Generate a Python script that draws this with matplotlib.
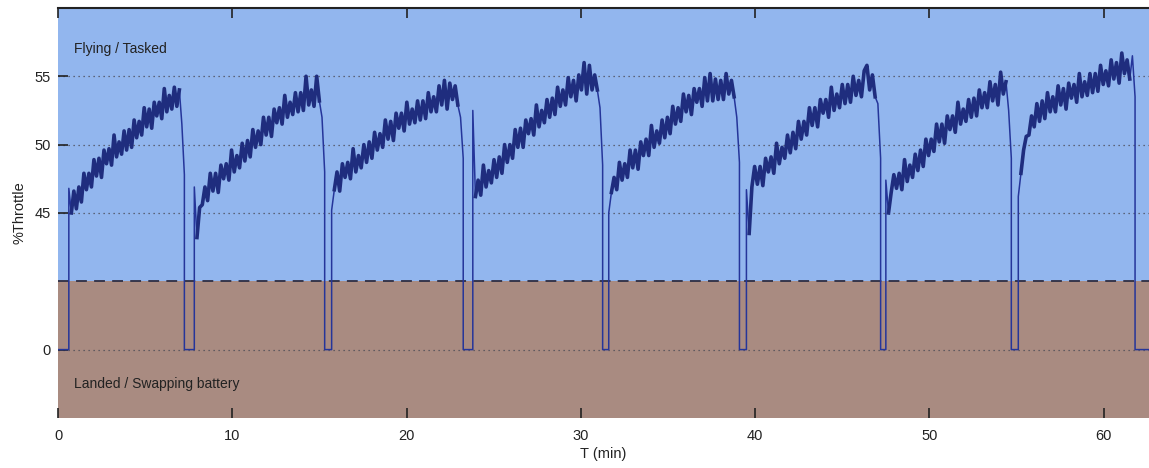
import numpy as np
import matplotlib
matplotlib.use("Agg")
import matplotlib.pyplot as plt

plt.rcParams["font.family"] = ["Liberation Sans", "DejaVu Sans"]

# ---------- данные: циклы полёта (время включения/выключения, % газа) ----------
T_END = 62.6
cycle_on = [0.62, 7.82, 15.70, 23.80, 31.60, 39.50, 47.50, 55.10]
cycle_off = [7.25, 15.30, 23.25, 31.25, 39.10, 47.20, 54.70, 61.80]

throttle_c1 = [46.8, 45.0,
               46.6, 45.3, 46.9, 45.8, 47.9, 46.7, 47.9, 46.9, 48.9, 47.7,
               49.0, 47.6, 49.6, 48.6, 49.7, 48.5, 50.7, 49.1, 50.2, 49.3,
               51.0, 49.6, 51.1, 49.8, 51.8, 50.5, 51.7, 50.7, 52.7, 51.3,
               52.6, 51.2, 53.1, 52.1, 53.1, 51.9, 54.1, 52.4, 53.6, 52.6,
               54.2, 52.8, 54.0,
               51.5, 47.8]
throttle_c2 = [46.9, 43.2, 45.4,
               45.6, 46.9, 45.9, 47.9, 46.6, 47.9, 46.5, 48.5, 47.5, 48.6,
               47.4, 49.6, 48.0, 49.2, 48.3, 50.1, 48.8, 50.3, 49.1, 51.1,
               49.8, 51.0, 50.0, 52.0, 50.7, 52.0, 50.6, 52.6, 51.6, 52.7,
               51.5, 53.6, 52.0, 53.1, 52.2, 53.8, 52.4, 53.8, 52.5, 55.0,
               52.9, 54.0, 52.8, 55.0, 53.2,
               52.0, 48.0]
throttle_c3 = [45.2, 46.7,
               48.0, 46.6, 48.6, 47.6, 48.7, 47.5, 49.7, 48.0, 49.2, 48.3,
               50.0, 48.7, 50.2, 49.0, 50.9, 49.6, 50.8, 49.8, 51.8, 50.4,
               51.7, 50.3, 52.3, 51.2, 52.3, 51.0, 53.1, 51.5, 52.6, 51.6,
               53.2, 51.8, 53.2, 51.9, 53.8, 52.4, 53.5, 52.4, 54.3, 52.9,
               54.7, 52.6, 54.5, 53.3, 54.3, 52.9,
               52.0, 49.0]
throttle_c4 = [52.5, 46.2, 47.4,
               46.3, 48.5, 46.9, 48.1, 47.2, 48.9, 47.6, 49.1, 47.9, 50.0,
               48.7, 50.0, 49.0, 51.1, 49.8, 51.2, 49.8, 51.8, 50.8, 51.9,
               50.7, 52.9, 51.3, 52.5, 51.6, 53.3, 52.0, 53.4, 52.2, 54.2,
               52.8, 54.0, 52.9, 54.9, 53.5, 54.7, 53.2, 55.1, 54.0, 56.0,
               53.7, 55.8, 54.0, 55.1, 54.0,
               52.7, 48.5]
throttle_c5 = [45.0, 46.5, 47.6,
               46.7, 48.7, 47.4, 48.6, 47.6, 49.6, 48.3, 49.6, 48.2, 50.2,
               49.2, 50.4, 49.2, 51.4, 49.8, 51.0, 50.1, 51.8, 50.5, 52.0,
               50.8, 52.8, 51.5, 52.7, 51.7, 53.7, 52.4, 53.6, 52.2, 54.1,
               53.1, 54.1, 52.8, 54.9, 53.2, 55.2, 53.2, 54.8, 53.3, 54.7,
               53.3, 55.2, 53.7, 54.7, 53.5,
               52.0, 48.7]
throttle_c6 = [46.7, 43.5, 46.9,
               48.4, 47.1, 48.4, 47.0, 49.0, 48.0, 49.1, 47.9, 50.1, 48.6,
               49.8, 49.0, 50.7, 49.4, 50.9, 49.7, 51.7, 50.4, 51.7, 50.7,
               52.7, 51.4, 52.7, 51.3, 53.3, 52.3, 53.3, 52.0, 54.2, 52.5,
               53.7, 52.7, 54.4, 53.0, 54.4, 53.1, 55.0, 53.6, 54.7, 53.5,
               55.4, 55.8, 54.0, 55.1, 53.5,
               53.0, 49.0]
throttle_c7 = [47.4, 45.0, 46.5,
               47.8, 46.8, 47.9, 46.7, 48.9, 47.3, 48.5, 47.6, 49.3, 48.1,
               49.6, 48.4, 50.4, 49.2, 50.4, 49.5, 51.5, 50.2, 51.5, 50.1,
               52.1, 51.1, 52.1, 50.9, 53.1, 51.5, 52.6, 51.7, 53.3, 52.0,
               53.4, 52.1, 54.0, 52.7, 53.8, 52.7, 54.6, 53.2, 54.4, 52.9,
               55.3, 53.7, 54.6,
               52.5, 49.0]
throttle_c8 = [46.2, 47.9, 49.6, 50.6,
               50.7, 52.1, 51.3, 53.0, 51.7, 53.2, 51.9, 53.8, 52.4, 53.5,
               52.4, 54.3, 52.9, 54.1, 52.6, 54.5, 53.4, 54.4, 53.1, 55.2,
               53.5, 54.6, 53.6, 55.2, 53.8, 55.2, 53.9, 55.8, 54.4, 55.4,
               54.3, 56.2, 54.8, 56.0, 54.5, 56.7, 55.2, 56.2, 54.8, 56.5,
               53.5]
cycles = [throttle_c1, throttle_c2, throttle_c3, throttle_c4,
          throttle_c5, throttle_c6, throttle_c7, throttle_c8]

y_tick_values = [0, 45, 50, 55]
x_tick_values = [0, 10, 20, 30, 40, 50, 60]
FLY_LEVEL = 40       # граница "летит / на земле" на оси
ZERO_ON_AXIS = 35    # где рисуется 0 на сжатой оси
LINE_COLOR = "#1f2d7e"


def to_axis(v):
    # ось с разрывом: 0 рисуется на уровне 35, остальное как есть
    v = np.asarray(v, dtype=float)
    return np.where(v == 0, ZERO_ON_AXIS, v)


# ---------- склеиваем ряд ----------
t_all = [0.0]
y_all = [0.0]
for on, off, vals in zip(cycle_on, cycle_off, cycles):
    tt = np.linspace(on, off, len(vals))
    t_all += [on] + list(tt) + [off]
    y_all += [0.0] + list(vals) + [0.0]
t_all.append(T_END)
y_all.append(0.0)

fig = plt.figure(figsize=(11.49, 4.68), dpi=100)
ax = fig.add_axes([0.0505, 0.107, 0.9495, 0.876])

ax.axhspan(FLY_LEVEL, 60, color="#92b6ee", zorder=0, lw=0)
ax.axhspan(30, FLY_LEVEL, color="#a98b81", zorder=0, lw=0)

for yv in to_axis(y_tick_values):
    ax.axhline(yv, color="#4a4a55", lw=0.9, ls=(0, (1, 3)), zorder=1)
ax.axhline(FLY_LEVEL, color="#2e2e45", lw=1.3, ls=(0, (6, 4)), zorder=1)

# тонкая линия — весь ряд (переходы 0 <-> полёт)
ax.plot(t_all, to_axis(y_all), color="#25359a", lw=1.1, zorder=3)
# шумная полоса в полёте — толще, чтобы слилась в ленту
for on, off, vals in zip(cycle_on, cycle_off, cycles):
    tt = np.linspace(on, off, len(vals))
    ax.plot(tt[1:-2], vals[1:-2], color=LINE_COLOR, lw=2.6, zorder=4,
            solid_joinstyle="round")

ax.text(0.92, 57.0, "Flying / Tasked", fontsize=10, color="#222222",
        va="center", ha="left")
ax.text(0.92, 32.5, "Landed / Swapping battery", fontsize=10,
        color="#222222", va="center", ha="left")

ax.set_xlim(0, T_END)
ax.set_ylim(30, 60)
ax.set_xticks(x_tick_values)
ax.set_yticks(to_axis(y_tick_values))
ax.set_yticklabels([str(v) for v in y_tick_values])
ax.tick_params(axis="x", direction="in", top=True, length=7, width=1.2,
               pad=8, labelsize=10.5, colors="#222222")
ax.tick_params(axis="y", direction="in", length=7, width=1.2, pad=5,
               labelsize=10.5, colors="#222222")
for side in ("left", "right", "bottom"):
    ax.spines[side].set_visible(False)
ax.spines["top"].set_linewidth(1.5)
ax.spines["top"].set_color("#222222")

ax.set_xlabel("T (min)", fontsize=10.5, color="#222222", labelpad=3)
ax.set_ylabel("%Throttle", fontsize=10.5, color="#222222", labelpad=6)

fig.savefig("out.png", dpi=100)
